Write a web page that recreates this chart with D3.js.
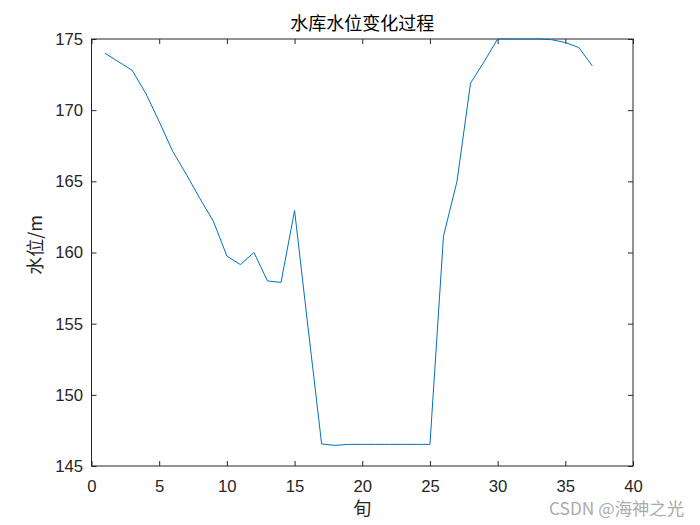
<!DOCTYPE html>
<html>
<head>
<meta charset="utf-8">
<script src="https://cdn.jsdelivr.net/npm/d3@7"></script>
<style>
  html, body { margin: 0; padding: 0; background: #fff; }
  svg { display: block; }
</style>
</head>
<body>
<script>
// ---- data ----
const periods = [1,2,3,4,5,6,7,8,9,10,11,12,13,14,15,16,17,18,19,20,21,22,23,24,25,26,27,28,29,30,31,32,33,34,35,36,37];
const waterLevel = [174.0,173.4,172.8,171.2,169.2,167.1,165.5,163.8,162.2,159.75,159.15,160.0,158.0,157.9,162.95,154.7,146.55,146.45,146.52,146.52,146.52,146.52,146.52,146.52,146.52,161.15,165.0,171.9,173.4,175.0,175.0,175.0,175.0,174.95,174.75,174.4,173.1];
const xTicks = [0,5,10,15,20,25,30,35,40];
const yTicks = [145,150,155,160,165,170,175];
const titleText = "水库水位变化过程";
const xLabelText = "旬";
const yLabelText = "水位/m";
const watermark = "CSDN @海神之光";

// ---- layout ----
const W = 700, H = 525;
const L = 91.5, R = 633, T = 39, B = 466;
const axisColor = "#262626";
const latinFont = "'Liberation Sans', Arial, Helvetica, sans-serif";
const cjkFont = "'Noto Sans CJK SC', 'Noto Sans', sans-serif";

const svg = d3.select("body").append("svg").attr("width", W).attr("height", H);
svg.append("rect").attr("width", W).attr("height", H).attr("fill", "#fff");

const x = d3.scaleLinear().domain([0, 40]).range([L, R]);
const y = d3.scaleLinear().domain([145, 175]).range([B, T]);

// bottom axis
const gx = svg.append("g").attr("transform", `translate(0,${B})`)
  .call(d3.axisBottom(x).tickValues(xTicks).tickSizeInner(-5).tickSizeOuter(0).tickPadding(14));
// top axis (ticks only)
const gxt = svg.append("g").attr("transform", `translate(0,${T})`)
  .call(d3.axisTop(x).tickValues(xTicks).tickSizeInner(-5).tickSizeOuter(0).tickFormat(""));
// left axis
const gy = svg.append("g").attr("transform", `translate(${L},0)`)
  .call(d3.axisLeft(y).tickValues(yTicks).tickSizeInner(-5).tickSizeOuter(0).tickPadding(8.5));
// right axis (ticks only)
const gyr = svg.append("g").attr("transform", `translate(${R},0)`)
  .call(d3.axisRight(y).tickValues(yTicks).tickSizeInner(-5).tickSizeOuter(0).tickFormat(""));

[gx, gxt, gy, gyr].forEach(g => {
  g.select(".domain").remove();
  g.selectAll(".tick line").attr("stroke", axisColor).attr("stroke-width", 1);
  g.selectAll(".tick text").attr("fill", axisColor)
    .style("font-family", latinFont).style("font-size", "16.7px");
});

// box
svg.append("rect")
  .attr("x", L).attr("y", T).attr("width", R - L).attr("height", B - T)
  .attr("fill", "none").attr("stroke", axisColor).attr("stroke-width", 1);

// line
const line = d3.line().x((d, i) => x(periods[i])).y(d => y(d));
svg.append("path")
  .datum(waterLevel)
  .attr("d", line)
  .attr("fill", "none")
  .attr("stroke", "#0072BD")
  .attr("stroke-width", 1)
  .attr("stroke-linejoin", "round");

// title
svg.append("text")
  .attr("x", (L + R) / 2).attr("y", 30)
  .attr("text-anchor", "middle")
  .attr("fill", "#000")
  .style("font-family", cjkFont).style("font-size", "18px")
  .text(titleText);

// x label
svg.append("text")
  .attr("x", (L + R) / 2).attr("y", 515)
  .attr("text-anchor", "middle")
  .attr("fill", axisColor)
  .style("font-family", cjkFont).style("font-size", "18px")
  .text(xLabelText);

// y label
svg.append("text")
  .attr("transform", `translate(42,245) rotate(-90)`)
  .attr("text-anchor", "middle")
  .attr("fill", axisColor)
  .style("font-family", cjkFont).style("font-size", "18px")
  .text(yLabelText);

// watermark
svg.append("text")
  .attr("x", 549).attr("y", 515)
  .attr("text-anchor", "start")
  .attr("textLength", 135)
  .attr("lengthAdjust", "spacingAndGlyphs")
  .attr("fill", "#ababab")
  .style("font-family", cjkFont).style("font-size", "17px")
  .text(watermark);
</script>
</body>
</html>
